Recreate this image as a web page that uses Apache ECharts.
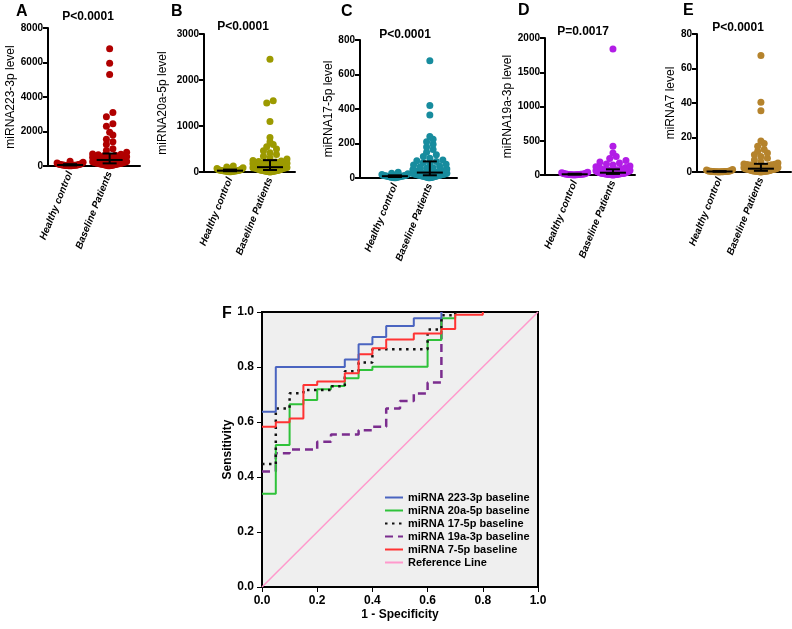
<!DOCTYPE html>
<html>
<head>
<meta charset="utf-8">
<script src="https://cdn.jsdelivr.net/npm/echarts@6/dist/echarts.min.js"></script>
<style>
html, body { margin: 0; padding: 0; background: #fff; }
#chart { width: 792px; height: 629px; }
</style>
</head>
<body>
<div id="chart"></div>
<script>
// ---------------------------data: panels A-E (dot plots)-------------------------------
var groupNames = ['Healthy control', 'Baseline Patients'];
var panelLetters = ['A', 'B', 'C', 'D', 'E'];
var pValues = ['P<0.0001', 'P<0.0001', 'P<0.0001', 'P=0.0017', 'P<0.0001'];
var yNames = ['miRNA223-3p level', 'miRNA20a-5p level', 'miRNA17-5p level', 'miRNA19a-3p level', 'miRNA7 level'];
var yMax = [8000, 3000, 800, 2000, 80];
var yStep = [2000, 1000, 200, 500, 20];

var healthyA = [10, 15, 20, 25, 30, 35, 40, 45, 50, 55, 60, 70, 80, 90, 100, 120, 150, 180, 220, 280];
var patientsA = [10, 20, 30, 40, 50, 60, 70, 80, 90, 100, 110, 120, 130, 140, 145,
	155, 170, 185, 200, 215, 230, 245, 260, 275, 290, 300, 310, 320, 330, 340,
	360, 380, 400, 420, 440, 460, 480, 500, 530, 560, 590, 620, 650, 680, 700,
	800, 900, 1000, 1250, 1400, 1550, 1800, 1950, 2300, 2450, 2850, 3100, 5300, 5950, 6800];

var healthyB = [5, 8, 10, 12, 15, 18, 20, 22, 25, 28, 30, 35, 40, 45, 50, 60, 75, 90, 110, 130];
var patientsB = [2, 5, 8, 10, 12, 15, 18, 20, 22, 25, 28, 30, 33, 36, 40,
	45, 50, 55, 60, 65, 70, 75, 80, 85, 88, 90, 93, 95, 98, 100,
	110, 120, 130, 140, 150, 160, 170, 180, 190, 200, 210, 220, 230, 240, 250,
	280, 310, 340, 380, 420, 460, 500, 550, 600, 650, 750, 1100, 1500, 1550, 2450];

var healthyC = [1, 2, 3, 4, 5, 6, 7, 8, 9, 10, 11, 12, 13, 14, 15, 17, 20, 24, 28, 33];
var patientsC = [1, 2, 3, 4, 5, 6, 7, 8, 9, 10, 11, 12, 13, 14, 15,
	16, 17, 18, 19, 20, 21, 22, 23, 24, 25, 26, 27, 28, 29, 30,
	33, 36, 40, 44, 48, 52, 56, 60, 65, 70, 75, 80, 85, 90, 95,
	100, 105, 115, 125, 135, 150, 165, 180, 195, 210, 225, 240, 365, 420, 680];

var healthyD = [1, 2, 3, 4, 5, 6, 7, 8, 9, 10, 11, 12, 14, 16, 18, 20, 24, 28, 34, 40];
var patientsD = [1, 2, 3, 4, 5, 6, 7, 8, 9, 10, 11, 12, 13, 14, 15,
	16, 17, 18, 19, 20, 21, 22, 23, 24, 25, 26, 27, 28, 30, 32,
	35, 38, 41, 44, 47, 50, 53, 56, 59, 62, 65, 68, 71, 75, 80,
	90, 100, 110, 120, 130, 145, 160, 175, 190, 210, 240, 270, 320, 420, 1840];

var healthyE = [0.05, 0.08, 0.1, 0.12, 0.15, 0.18, 0.2, 0.22, 0.25, 0.28, 0.3, 0.35, 0.4, 0.45, 0.5, 0.6, 0.7, 0.9, 1.2, 1.5];
var patientsE = [0.05, 0.1, 0.15, 0.2, 0.25, 0.3, 0.35, 0.4, 0.45, 0.5, 0.52, 0.55, 0.57, 0.6, 0.62,
	0.7, 0.8, 0.9, 1.0, 1.1, 1.2, 1.3, 1.4, 1.5, 1.6, 1.65, 1.7, 1.75, 1.8, 1.85,
	2.0, 2.2, 2.4, 2.6, 2.8, 3.0, 3.2, 3.4, 3.6, 3.8, 4.0, 4.2, 4.4, 4.5, 4.6,
	5.2, 6, 7, 8, 9, 10, 11, 12, 13, 15, 16.5, 18, 35.5, 40.5, 67.5];

var healthyAll = [healthyA, healthyB, healthyC, healthyD, healthyE];
var patientsAll = [patientsA, patientsB, patientsC, patientsD, patientsE];

// ---------------------------data: panel F (ROC)-------------------------------
var rocNames = ['miRNA 223-3p baseline', 'miRNA 20a-5p baseline', 'miRNA 17-5p baseline',
	'miRNA 19a-3p baseline', 'miRNA 7-5p baseline', 'Reference Line'];
var fpr223 = [0, 0.05, 0.30, 0.35, 0.40, 0.45, 0.55, 0.65];
var tpr223 = [0.637, 0.80, 0.827, 0.883, 0.909, 0.949, 0.977, 1.0];
var fpr20a = [0, 0.05, 0.10, 0.15, 0.20, 0.25, 0.30, 0.35, 0.40, 0.60, 0.65, 0.70];
var tpr20a = [0.339, 0.516, 0.665, 0.68, 0.719, 0.731, 0.759, 0.789, 0.801, 0.898, 0.977, 1.0];
var fpr17 = [0, 0.05, 0.10, 0.15, 0.25, 0.30, 0.35, 0.40, 0.60, 0.65, 0.70];
var tpr17 = [0.447, 0.649, 0.705, 0.716, 0.73, 0.785, 0.816, 0.865, 0.936, 0.988, 1.0];
var fpr19a = [0, 0.05, 0.10, 0.20, 0.25, 0.35, 0.40, 0.45, 0.50, 0.55, 0.60, 0.65];
var tpr19a = [0.42, 0.486, 0.50, 0.528, 0.555, 0.57, 0.583, 0.649, 0.676, 0.704, 0.744, 1.0];
var fpr7 = [0, 0.05, 0.10, 0.15, 0.20, 0.30, 0.35, 0.40, 0.45, 0.55, 0.65, 0.70, 0.80];
var tpr7 = [0.583, 0.599, 0.613, 0.735, 0.747, 0.777, 0.846, 0.868, 0.90, 0.922, 0.938, 0.99, 1.0];
var fprRef = [0, 1];
var tprRef = [0, 1];

// ---------------------------layout / styles-------------------------------
var FONT = 'Liberation Sans';
var dotColors = ['#b00000', '#9c9a00', '#178c9e', '#b21de6', '#b5832c'];
var boxes = [
	{ left: 48, top: 28, width: 92, height: 138 },
	{ left: 204, top: 34, width: 91, height: 138 },
	{ left: 360, top: 40, width: 97, height: 138 },
	{ left: 545, top: 38, width: 90, height: 137 },
	{ left: 697, top: 34, width: 94, height: 138 }
];
var catPos = [[0.24, 0.67], [0.286, 0.725], [0.36, 0.72], [0.33, 0.755], [0.24, 0.68]];
var nameGaps = [28, 35, 21, 31, 16];
var letterPos = [[16, 4], [171, 4], [341, 4], [518, 3], [683, 3]];
var pPos = [[88, 11], [243, 21], [405, 29], [583, 26], [738, 22]];

function quantile(sorted, p) {
	var pos = (sorted.length - 1) * p, lo = Math.floor(pos), hi = Math.ceil(pos);
	return sorted[lo] + (sorted[hi] - sorted[lo]) * (pos - lo);
}

var chart = echarts.init(document.getElementById('chart'));

var grids = [], xAxes = [], yAxes = [], titles = [], series = [];

boxes.forEach(function (b, k) {
	grids.push(b);
	var pos = catPos[k];
	xAxes.push({
		type: 'value', gridIndex: k, min: 0, max: 1,
		axisLine: { lineStyle: { color: '#000', width: 2 } },
		axisTick: { show: false },
		splitLine: { show: false },
		axisLabel: {
			customValues: pos,
			rotate: 68, margin: 6,
			color: '#000', fontFamily: FONT, fontSize: 10, fontWeight: 'bold', fontStyle: 'italic',
			formatter: function (v) { return Math.abs(v - pos[0]) < 1e-6 ? groupNames[0] : groupNames[1]; }
		}
	});
	yAxes.push({
		type: 'value', gridIndex: k, min: 0, max: yMax[k], interval: yStep[k],
		name: yNames[k], nameLocation: 'middle', nameGap: nameGaps[k], nameRotate: 90,
		nameTextStyle: { color: '#000', fontFamily: FONT, fontSize: 12 },
		axisLine: { show: true, lineStyle: { color: '#000', width: 2 } },
		axisTick: { show: true, length: 5, lineStyle: { color: '#000', width: 2 } },
		splitLine: { show: false },
		axisLabel: { color: '#000', fontFamily: FONT, fontSize: 10, fontWeight: 'bold', margin: 5,
			formatter: function (v) { return String(v); } }
	});
	titles.push({ text: panelLetters[k], left: letterPos[k][0], top: letterPos[k][1], padding: 0,
		textStyle: { fontFamily: FONT, fontSize: 16, fontWeight: 'bold', color: '#000' } });
	titles.push({ text: pValues[k], left: pPos[k][0], top: pPos[k][1], padding: 0, textAlign: 'center',
		textStyle: { fontFamily: FONT, fontSize: 12, fontWeight: 'bold', color: '#000' } });

	series.push({ id: 'h' + k, type: 'scatter', xAxisIndex: k, yAxisIndex: k, symbolSize: 7,
		itemStyle: { color: dotColors[k], opacity: 1 }, clip: false, silent: true, z: 2, data: [] });
	series.push({ id: 'p' + k, type: 'scatter', xAxisIndex: k, yAxisIndex: k, symbolSize: 7,
		itemStyle: { color: dotColors[k], opacity: 1 }, clip: false, silent: true, z: 2, data: [] });

	// median with interquartile range
	var bars = [healthyAll[k], patientsAll[k]].map(function (vals, g) {
		var s = vals.slice().sort(function (a, b) { return a - b; });
		return [pos[g], quantile(s, 0.25), quantile(s, 0.5), quantile(s, 0.75)];
	});
	series.push({
		type: 'custom', xAxisIndex: k, yAxisIndex: k, z: 5, silent: true, clip: false,
		data: bars,
		renderItem: function (params, api) {
			var x = api.value(0);
			var p1 = api.coord([x, api.value(1)]);
			var pm = api.coord([x, api.value(2)]);
			var p3 = api.coord([x, api.value(3)]);
			var st = { stroke: '#000', lineWidth: 2 };
			return { type: 'group', children: [
				{ type: 'line', shape: { x1: p1[0], y1: p1[1], x2: p3[0], y2: p3[1] }, style: st },
				{ type: 'line', shape: { x1: pm[0] - 13, y1: pm[1], x2: pm[0] + 13, y2: pm[1] }, style: st },
				{ type: 'line', shape: { x1: p1[0] - 7, y1: p1[1], x2: p1[0] + 7, y2: p1[1] }, style: st },
				{ type: 'line', shape: { x1: p3[0] - 7, y1: p3[1], x2: p3[0] + 7, y2: p3[1] }, style: st }
			] };
		}
	});
});

// ---------------------------ROC (F)-------------------------------
var F = 5;
grids.push({ left: 262, top: 312, width: 276, height: 275, show: true,
	backgroundColor: '#efefef', borderColor: '#000', borderWidth: 2 });
var rocAxis = {
	type: 'value', gridIndex: F, min: 0, max: 1, interval: 0.2,
	nameLocation: 'middle',
	nameTextStyle: { color: '#000', fontFamily: FONT, fontSize: 12, fontWeight: 'bold' },
	axisLine: { show: true, lineStyle: { color: '#000', width: 2 } },
	axisTick: { show: true, length: 5, lineStyle: { color: '#000', width: 1 } },
	splitLine: { show: false },
	axisLabel: { color: '#000', fontFamily: FONT, fontSize: 12, fontWeight: 'bold', margin: 8,
		formatter: function (v) { return v.toFixed(1); } }
};
xAxes.push(Object.assign({}, rocAxis, { name: '1 - Specificity', nameGap: 22 }));
yAxes.push(Object.assign({}, rocAxis, { name: 'Sensitivity', nameGap: 27 }));
titles.push({ text: 'F', left: 222, top: 306, padding: 0,
	textStyle: { fontFamily: FONT, fontSize: 16, fontWeight: 'bold', color: '#000' } });

function pairs(xs, ys) { return xs.map(function (x, i) { return [x, ys[i]]; }); }

var rocSeries = [
	{ name: rocNames[5], data: pairs(fprRef, tprRef), color: '#ff99cc', width: 1.5, type: 'solid', step: false },
	{ name: rocNames[3], data: pairs(fpr19a, tpr19a), color: '#7b2d8e', width: 2.5, type: [8, 5], step: 'end' },
	{ name: rocNames[1], data: pairs(fpr20a, tpr20a), color: '#2fc23a', width: 2, type: 'solid', step: 'end' },
	{ name: rocNames[2], data: pairs(fpr17, tpr17), color: '#111', width: 2.5, type: [2.5, 4.5], step: 'end' },
	{ name: rocNames[4], data: pairs(fpr7, tpr7), color: '#ff3333', width: 2, type: 'solid', step: 'end' },
	{ name: rocNames[0], data: pairs(fpr223, tpr223), color: '#4a64c0', width: 2, type: 'solid', step: 'end' }
];
rocSeries.forEach(function (r) {
	series.push({
		name: r.name, type: 'line', xAxisIndex: F, yAxisIndex: F, step: r.step,
		symbol: 'none', showSymbol: false, silent: true, z: 3,
		color: r.color,
		lineStyle: { color: r.color, width: r.width, type: r.type },
		data: r.data
	});
});

chart.setOption({
	animation: false,
	backgroundColor: '#fff',
	title: titles,
	grid: grids,
	xAxis: xAxes,
	yAxis: yAxes,
	legend: {
		data: rocNames, orient: 'vertical', left: 384, top: 492, padding: 0,
		itemWidth: 18, itemHeight: 11, itemGap: 2,
		itemStyle: { opacity: 0 },
		textStyle: { fontFamily: FONT, fontSize: 11, fontWeight: 'bold', color: '#000' }
	},
	series: series
});

// ---------------------------dot placement (swarm) using the axes' own scales-------------------------------
function swarm(k, center, values, halfWidth) {
	var pts = values.slice().sort(function (a, b) { return a - b; }).map(function (v) {
		return { v: v, py: chart.convertToPixel({ gridIndex: k }, [center, v])[1] };
	});
	var cx = chart.convertToPixel({ gridIndex: k }, [center, 0])[0];
	var rows = [], row = null;
	pts.forEach(function (p) {
		if (!row || row[0].py - p.py > 4.5) { row = []; rows.push(row); }
		row.push(p);
	});
	var out = [];
	rows.forEach(function (r) {
		var n = r.length;
		var step = n > 1 ? Math.min(6.5, 2 * halfWidth / (n - 1)) : 0;
		var slots = [];
		for (var i = 0; i < n; i++) slots.push((i - (n - 1) / 2) * step);
		slots.sort(function (a, b) { return Math.abs(a) - Math.abs(b) || a - b; });
		r.forEach(function (p, i) {
			var x = chart.convertFromPixel({ gridIndex: k }, [cx + slots[i], p.py])[0];
			out.push([x, p.v]);
		});
	});
	return out;
}

var updates = [];
boxes.forEach(function (b, k) {
	updates.push({ id: 'h' + k, data: swarm(k, catPos[k][0], healthyAll[k], 13) });
	updates.push({ id: 'p' + k, data: swarm(k, catPos[k][1], patientsAll[k], 17) });
});
chart.setOption({ series: updates });
</script>
</body>
</html>
